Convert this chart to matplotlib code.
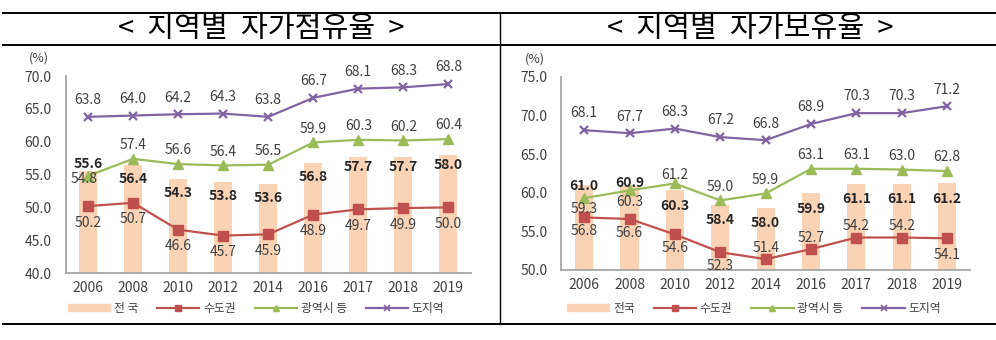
import numpy as np
import matplotlib
matplotlib.use("Agg")
import matplotlib.pyplot as plt
from matplotlib.lines import Line2D
from matplotlib.patches import Patch

plt.rcParams['font.family'] = ['Noto Sans CJK KR', 'DejaVu Sans']

years = ['2006', '2008', '2010', '2012', '2014', '2016', '2017', '2018', '2019']
series_names = ['수도권', '광역시 등', '도지역']

# 자가점유율
occ_nation = [55.6, 56.4, 54.3, 53.8, 53.6, 56.8, 57.7, 57.7, 58.0]
occ_capital = [50.2, 50.7, 46.6, 45.7, 45.9, 48.9, 49.7, 49.9, 50.0]
occ_metro = [54.8, 57.4, 56.6, 56.4, 56.5, 59.9, 60.3, 60.2, 60.4]
occ_province = [63.8, 64.0, 64.2, 64.3, 63.8, 66.7, 68.1, 68.3, 68.8]

# 자가보유율
own_nation = [61.0, 60.9, 60.3, 58.4, 58.0, 59.9, 61.1, 61.1, 61.2]
own_capital = [56.8, 56.6, 54.6, 52.3, 51.4, 52.7, 54.2, 54.2, 54.1]
own_metro = [59.3, 60.3, 61.2, 59.0, 59.9, 63.1, 63.1, 63.0, 62.8]
own_province = [68.1, 67.7, 68.3, 67.2, 66.8, 68.9, 70.3, 70.3, 71.2]

BAR = '#FAD2B4'
RED = '#C0504D'
GREEN = '#9BBB59'
PURPLE = '#8064A2'
TXT = '#404040'

fig = plt.figure(figsize=(9.96, 3.4), dpi=100)

# label offsets in points (dx, dy) -- placement only
left_off = {
    'bar': [(0, 5)] + [(0, -10)] * 5 + [(0, -7)] * 3,
    'cap': [(0, -12)] * 9,
    'met': [(-3, -2)] + [(0, 10)] * 8,
    'pro': [(0, 12)] * 9,
}
right_off = {
    'bar': [(0, -1), (0, 2)] + [(0, -11)] * 7,
    'cap': [(0, -10)] * 4 + [(0, 8)] * 4 + [(0, -12)],
    'met': [(0, -8), (0, -8), (0, 6)] + [(0, 10)] * 6,
    'pro': [(0, 12)] * 9,
}


def draw(rect, nation, cap, met, pro, ylim, yticks, offs, nation_label):
    ax = fig.add_axes(rect)
    x = np.arange(len(years))
    ax.bar(x, nation, width=0.4, color=BAR, zorder=1)
    ax.plot(x, cap, color=RED, lw=1.6, marker='s', ms=6.5, zorder=3)
    ax.plot(x, met, color=GREEN, lw=1.6, marker='^', ms=7, zorder=3)
    ax.plot(x, pro, color=PURPLE, lw=1.6, marker='x', ms=6, mew=1.6, zorder=3)

    for i in x:
        ax.annotate(f'{nation[i]:.1f}', (i, nation[i]), xytext=offs['bar'][i],
                    textcoords='offset points', ha='center', va='center',
                    fontsize=10, fontweight='bold', color='#262626', zorder=4)
        for vals, key in ((cap, 'cap'), (met, 'met'), (pro, 'pro')):
            ax.annotate(f'{vals[i]:.1f}', (i, vals[i]), xytext=offs[key][i],
                        textcoords='offset points', ha='center', va='center',
                        fontsize=10, color=TXT, zorder=4)

    ax.set_xlim(-0.5, len(years) - 0.5)
    ax.set_ylim(*ylim)
    ax.set_yticks(yticks)
    ax.set_yticklabels([f'{t:.1f}' for t in yticks])
    ax.set_xticks(x)
    ax.set_xticklabels(years)
    ax.tick_params(length=0, labelsize=10, labelcolor=TXT, pad=6)
    ax.tick_params(axis='y', pad=10)
    for s in ('top', 'right'):
        ax.spines[s].set_visible(False)
    for s in ('left', 'bottom'):
        ax.spines[s].set_color('#A6A6A6')
        ax.spines[s].set_linewidth(1.3)
    ax.patch.set_alpha(0)
    ax.text(-0.066, 1.09, '(%)', transform=ax.transAxes, fontsize=9,
            color=TXT, ha='center', va='center')

    handles = [
        Patch(color=BAR),
        Line2D([], [], color=RED, lw=1.6, marker='s', ms=4.5),
        Line2D([], [], color=GREEN, lw=1.6, marker='^', ms=5),
        Line2D([], [], color=PURPLE, lw=1.6, marker='x', ms=4, mew=1.2),
    ]
    return ax, handles, [nation_label] + series_names


axl, hl, ll = draw([0.0658, 0.197, 0.407, 0.579], occ_nation, occ_capital,
                   occ_metro, occ_province, (40, 70),
                   [40, 45, 50, 55, 60, 65, 70], left_off, '전 국')
axr, hr, lr = draw([0.5637, 0.206, 0.410, 0.568], own_nation, own_capital,
                   own_metro, own_province, (50, 75),
                   [50, 55, 60, 65, 70, 75], right_off, '전국')

for ax, h, l, cx in ((axl, hl, ll, 0.257), (axr, hr, lr, 0.757)):
    fig.legend(h, l, loc='center', bbox_to_anchor=(cx, 0.094), ncol=4,
               frameon=False, fontsize=8.5, handlelength=3.6, handleheight=0.6,
               columnspacing=1.6, handletextpad=0.3, labelcolor=TXT)

fig.text(0.262, 0.915, '<  지역별  자가점유율  >', ha='center', va='center',
         fontsize=21, color='black')
fig.text(0.753, 0.915, '<  지역별  자가보유율  >', ha='center', va='center',
         fontsize=21, color='black')

# table frame
for y in (1 - 12.5 / 340, 1 - 45 / 340, 1 - 324 / 340):
    fig.add_artist(Line2D([0.003, 0.999], [y, y], color='black', lw=1.4))
fig.add_artist(Line2D([499.5 / 996, 499.5 / 996], [1 - 12.5 / 340, 1 - 324 / 340],
                      color='black', lw=1.0))

fig.savefig('out.png', dpi=100)
